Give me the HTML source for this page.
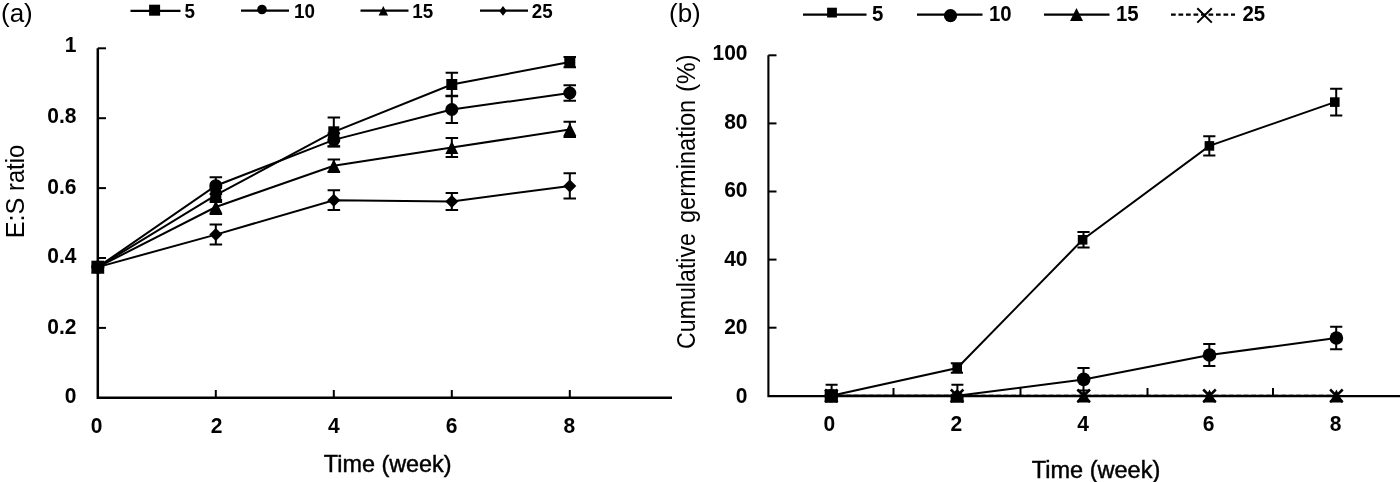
<!DOCTYPE html>
<html><head><meta charset="utf-8"><style>
html,body{margin:0;padding:0;background:#fff;}
svg{display:block;will-change:transform;}
text{font-family:"Liberation Sans",sans-serif;fill:#000;}
.tk{font-weight:bold;font-size:22px;}
.lg{font-weight:bold;font-size:20px;}
.lg2{font-weight:bold;font-size:22.5px;}
.pl{font-size:26px;}
.ti{font-size:24px;stroke:#000;stroke-width:0.45px;}
.yl{font-size:26px;}
.yl2{font-size:26px;}
</style></head><body>
<svg width="1400" height="482" viewBox="0 0 1400 482">
<rect width="1400" height="482" fill="#fff"/>
<g id="A">
<path d="M97.8,48.3V397.8H672" fill="none" stroke="#000" stroke-width="2.5" stroke-linejoin="miter"/>
<path d="M97.8,327.9H106" stroke="#000" stroke-width="2"/>
<path d="M97.8,258.0H106" stroke="#000" stroke-width="2"/>
<path d="M97.8,188.1H106" stroke="#000" stroke-width="2"/>
<path d="M97.8,118.2H106" stroke="#000" stroke-width="2"/>
<path d="M97.8,48.3H106" stroke="#000" stroke-width="2"/>
<path d="M215.8,397.8V390" stroke="#000" stroke-width="2"/>
<path d="M333.8,397.8V390" stroke="#000" stroke-width="2"/>
<path d="M451.8,397.8V390" stroke="#000" stroke-width="2"/>
<path d="M569.8,397.8V390" stroke="#000" stroke-width="2"/>
<text class="tk" transform="translate(76.50,402.85) scale(0.955,1)" text-anchor="end">0</text>
<text class="tk" transform="translate(76.50,333.60) scale(0.955,1)" text-anchor="end">0.2</text>
<text class="tk" transform="translate(76.50,262.75) scale(0.955,1)" text-anchor="end">0.4</text>
<text class="tk" transform="translate(76.50,193.50) scale(0.955,1)" text-anchor="end">0.6</text>
<text class="tk" transform="translate(76.50,123.40) scale(0.955,1)" text-anchor="end">0.8</text>
<text class="tk" transform="translate(76.50,52.45) scale(0.955,1)" text-anchor="end">1</text>
<text class="tk" transform="translate(96.70,432.60) scale(0.955,1)" text-anchor="middle">0</text>
<text class="tk" transform="translate(216.60,432.60) scale(0.955,1)" text-anchor="middle">2</text>
<text class="tk" transform="translate(333.90,432.60) scale(0.955,1)" text-anchor="middle">4</text>
<text class="tk" transform="translate(451.70,432.60) scale(0.955,1)" text-anchor="middle">6</text>
<text class="tk" transform="translate(569.40,432.60) scale(0.955,1)" text-anchor="middle">8</text>
<polyline points="97.8,267.1 215.8,195.1 333.8,131.8 451.8,84.5 569.8,62.1" fill="none" stroke="#000" stroke-width="2"/>
<polyline points="97.8,267.1 215.8,185.7 333.8,139.9 451.8,109.5 569.8,93.0" fill="none" stroke="#000" stroke-width="2"/>
<polyline points="97.8,267.1 215.8,207.0 333.8,165.7 451.8,147.6 569.8,129.4" fill="none" stroke="#000" stroke-width="2"/>
<polyline points="97.8,267.1 215.8,234.6 333.8,200.2 451.8,201.5 569.8,185.9" fill="none" stroke="#000" stroke-width="2"/>
<path d="M215.8,188.1V202.1M209.6,188.1H222.1M209.6,202.1H222.1" fill="none" stroke="#000" stroke-width="2"/>
<path d="M333.8,117.5V146.2M327.6,117.5H340.1M327.6,146.2H340.1" fill="none" stroke="#000" stroke-width="2"/>
<path d="M451.8,72.8V96.2M445.6,72.8H458.1M445.6,96.2H458.1" fill="none" stroke="#000" stroke-width="2"/>
<path d="M569.8,56.9V67.3M563.5,56.9H576.0M563.5,67.3H576.0" fill="none" stroke="#000" stroke-width="2"/>
<path d="M215.8,177.3V194.0M209.6,177.3H222.1M209.6,194.0H222.1" fill="none" stroke="#000" stroke-width="2"/>
<path d="M333.8,133.2V146.5M327.6,133.2H340.1M327.6,146.5H340.1" fill="none" stroke="#000" stroke-width="2"/>
<path d="M451.8,95.8V123.1M445.6,95.8H458.1M445.6,123.1H458.1" fill="none" stroke="#000" stroke-width="2"/>
<path d="M569.8,85.3V100.7M563.5,85.3H576.0M563.5,100.7H576.0" fill="none" stroke="#000" stroke-width="2"/>
<path d="M215.8,200.0V214.0M209.6,200.0H222.1M209.6,214.0H222.1" fill="none" stroke="#000" stroke-width="2"/>
<path d="M333.8,159.4V172.0M327.6,159.4H340.1M327.6,172.0H340.1" fill="none" stroke="#000" stroke-width="2"/>
<path d="M451.8,138.1V157.0M445.6,138.1H458.1M445.6,157.0H458.1" fill="none" stroke="#000" stroke-width="2"/>
<path d="M569.8,121.7V137.1M563.5,121.7H576.0M563.5,137.1H576.0" fill="none" stroke="#000" stroke-width="2"/>
<path d="M215.8,224.6V244.6M209.6,224.6H222.1M209.6,244.6H222.1" fill="none" stroke="#000" stroke-width="2"/>
<path d="M333.8,190.2V210.1M327.6,190.2H340.1M327.6,210.1H340.1" fill="none" stroke="#000" stroke-width="2"/>
<path d="M451.8,193.1V209.9M445.6,193.1H458.1M445.6,209.9H458.1" fill="none" stroke="#000" stroke-width="2"/>
<path d="M569.8,173.3V198.5M563.5,173.3H576.0M563.5,198.5H576.0" fill="none" stroke="#000" stroke-width="2"/>
<rect x="92.3" y="261.6" width="11.0" height="11.0"/>
<rect x="210.3" y="189.6" width="11.0" height="11.0"/>
<rect x="328.3" y="126.3" width="11.0" height="11.0"/>
<rect x="446.3" y="79.0" width="11.0" height="11.0"/>
<rect x="564.3" y="56.6" width="11.0" height="11.0"/>
<circle cx="97.8" cy="267.1" r="6.5"/>
<circle cx="215.8" cy="185.7" r="6.5"/>
<circle cx="333.8" cy="139.9" r="6.5"/>
<circle cx="451.8" cy="109.5" r="6.5"/>
<circle cx="569.8" cy="93.0" r="6.5"/>
<polygon points="97.8,260.6 104.3,273.6 91.3,273.6"/>
<polygon points="215.8,200.5 222.3,213.5 209.3,213.5"/>
<polygon points="333.8,159.2 340.3,172.2 327.3,172.2"/>
<polygon points="451.8,141.1 458.3,154.1 445.3,154.1"/>
<polygon points="569.8,122.9 576.3,135.9 563.3,135.9"/>
<polygon points="97.8,260.6 104.3,267.1 97.8,273.6 91.3,267.1"/>
<polygon points="215.8,228.1 222.3,234.6 215.8,241.1 209.3,234.6"/>
<polygon points="333.8,193.7 340.3,200.2 333.8,206.7 327.3,200.2"/>
<polygon points="451.8,195.0 458.3,201.5 451.8,208.0 445.3,201.5"/>
<polygon points="569.8,179.4 576.3,185.9 569.8,192.4 563.3,185.9"/>
<rect x="91.4" y="260.7" width="12.8" height="12.8"/>
</g>
<g id="B">
<path d="M768.4,55.3V396.1H1400" fill="none" stroke="#000" stroke-width="2.1"/>
<path d="M768.4,327.7H776.5" stroke="#000" stroke-width="2"/>
<path d="M768.4,259.6H776.5" stroke="#000" stroke-width="2"/>
<path d="M768.4,191.5H776.5" stroke="#000" stroke-width="2"/>
<path d="M768.4,123.4H776.5" stroke="#000" stroke-width="2"/>
<path d="M768.4,55.3H776.5" stroke="#000" stroke-width="2"/>
<path d="M893.5,395.8V388" stroke="#000" stroke-width="2"/>
<path d="M1020.5,395.8V388" stroke="#000" stroke-width="2"/>
<path d="M1147.5,395.8V388" stroke="#000" stroke-width="2"/>
<path d="M1273,395.8V388" stroke="#000" stroke-width="2"/>
<text class="tk" transform="translate(747.50,402.90) scale(0.955,1)" text-anchor="end">0</text>
<text class="tk" transform="translate(747.50,333.60) scale(0.955,1)" text-anchor="end">20</text>
<text class="tk" transform="translate(747.50,266.15) scale(0.955,1)" text-anchor="end">40</text>
<text class="tk" transform="translate(747.50,197.35) scale(0.955,1)" text-anchor="end">60</text>
<text class="tk" transform="translate(747.50,129.35) scale(0.955,1)" text-anchor="end">80</text>
<text class="tk" transform="translate(747.50,60.00) scale(0.955,1)" text-anchor="end">100</text>
<text class="tk" transform="translate(829.40,431.00) scale(0.955,1)" text-anchor="middle">0</text>
<text class="tk" transform="translate(956.40,431.00) scale(0.955,1)" text-anchor="middle">2</text>
<text class="tk" transform="translate(1083.10,431.00) scale(0.955,1)" text-anchor="middle">4</text>
<text class="tk" transform="translate(1208.60,431.00) scale(0.955,1)" text-anchor="middle">6</text>
<text class="tk" transform="translate(1335.70,431.00) scale(0.955,1)" text-anchor="middle">8</text>
<polyline points="831.3,395.8 957.2,368.0 1082.6,239.8 1209.4,145.9 1334.8,102.1" fill="none" stroke="#000" stroke-width="2"/>
<polyline points="831.3,395.8 957.1,395.8 1083.7,379.4 1209.5,355.0 1336.4,338.0" fill="none" stroke="#000" stroke-width="2"/>
<polyline points="831.3,395.8 957.1,395.8 1083.7,395.8 1209.5,395.8 1336.4,395.8" fill="none" stroke="#000" stroke-width="2"/>
<polyline points="831.3,395.8 957.1,395.8 1083.7,395.8 1209.5,395.8 1336.4,395.8" fill="none" stroke="#000" stroke-width="2" stroke-dasharray="4.7,2.8"/>
<path d="M831.6,384.7V395.8M825.6,384.7H837.6M825.6,395.8H837.6" fill="none" stroke="#000" stroke-width="2"/>
<path d="M957.4,384.7V395.8M951.4,384.7H963.4M951.4,395.8H963.4" fill="none" stroke="#000" stroke-width="2"/>
<path d="M956.9,363.2V372.8M950.8,363.2H963.0M950.8,372.8H963.0" fill="none" stroke="#000" stroke-width="2"/>
<path d="M1083.5,232.1V247.4M1077.4,232.1H1089.6M1077.4,247.4H1089.6" fill="none" stroke="#000" stroke-width="2"/>
<path d="M1209.3,136.3V155.4M1203.2,136.3H1215.4M1203.2,155.4H1215.4" fill="none" stroke="#000" stroke-width="2"/>
<path d="M1336.2,88.7V115.5M1330.1,88.7H1342.3M1330.1,115.5H1342.3" fill="none" stroke="#000" stroke-width="2"/>
<path d="M1083.5,368.1V390.6M1077.4,368.1H1089.6M1077.4,390.6H1089.6" fill="none" stroke="#000" stroke-width="2"/>
<path d="M1209.3,343.9V366.1M1203.2,343.9H1215.4M1203.2,366.1H1215.4" fill="none" stroke="#000" stroke-width="2"/>
<path d="M1336.2,326.8V349.3M1330.1,326.8H1342.3M1330.1,349.3H1342.3" fill="none" stroke="#000" stroke-width="2"/>
<rect x="826.5" y="391.0" width="9.6" height="9.6"/>
<rect x="952.4" y="363.2" width="9.6" height="9.6"/>
<rect x="1077.8" y="235.0" width="9.6" height="9.6"/>
<rect x="1204.6" y="141.1" width="9.6" height="9.6"/>
<rect x="1330.0" y="97.3" width="9.6" height="9.6"/>
<circle cx="831.3" cy="395.8" r="6.8"/>
<circle cx="1083.7" cy="379.4" r="6.8"/>
<circle cx="1209.5" cy="355.0" r="6.8"/>
<circle cx="1336.4" cy="338.0" r="6.8"/>
<polygon points="831.3,389.6 838.0,402.4 824.6,402.4"/>
<path d="M825.0,389.5L837.6,402.1M837.6,389.5L825.0,402.1" fill="none" stroke="#000" stroke-width="2.5"/>
<polygon points="957.1,389.6 963.8,402.4 950.4,402.4"/>
<path d="M950.8,389.5L963.4,402.1M963.4,389.5L950.8,402.1" fill="none" stroke="#000" stroke-width="2.5"/>
<polygon points="957.1,389.2 963.6,394.8 963.6,402.4 950.6,402.4 950.6,394.8"/>
<polygon points="1083.7,389.6 1090.4,402.4 1077.0,402.4"/>
<path d="M1077.4,389.5L1090.0,402.1M1090.0,389.5L1077.4,402.1" fill="none" stroke="#000" stroke-width="2.5"/>
<polygon points="1209.5,389.6 1216.2,402.4 1202.8,402.4"/>
<path d="M1203.2,389.5L1215.8,402.1M1215.8,389.5L1203.2,402.1" fill="none" stroke="#000" stroke-width="2.5"/>
<polygon points="1336.4,389.6 1343.1,402.4 1329.7,402.4"/>
<path d="M1330.1,389.5L1342.7,402.1M1342.7,389.5L1330.1,402.1" fill="none" stroke="#000" stroke-width="2.5"/>
<rect x="824.7" y="389.2" width="13.2" height="13.2" rx="1.5"/>
</g>
<path d="M130.5,10.9H180.5" stroke="#000" stroke-width="2.2"/><rect x="149.1" y="4.7" width="11.0" height="11.0"/><text class="lg" transform="translate(184.50,17.50) scale(0.94,1)">5</text>
<path d="M241,10.7H289" stroke="#000" stroke-width="2.2"/><circle cx="262.0" cy="9.5" r="4.8"/><text class="lg" transform="translate(294.00,17.50) scale(0.94,1)">10</text>
<path d="M360.5,10.7H408.5" stroke="#000" stroke-width="2.2"/><polygon points="383.3,6.1 388.1,15.6 378.6,15.6"/><text class="lg" transform="translate(412.30,17.50) scale(0.94,1)">15</text>
<path d="M480,10.7H528" stroke="#000" stroke-width="2.2"/><polygon points="503.0,6.1 506.7,10.9 503.0,15.7 499.3,10.9"/><text class="lg" transform="translate(531.80,17.50) scale(0.94,1)">25</text>
<path d="M803,14.6H866.5" stroke="#000" stroke-width="2.2"/><rect x="827.1" y="7.7" width="9.8" height="9.8"/><text class="lg2" transform="translate(872.00,21.20) scale(0.907,1)">5</text>
<path d="M917,14.6H982.5" stroke="#000" stroke-width="2.2"/><circle cx="950.5" cy="15.7" r="6.6"/><text class="lg2" transform="translate(989.00,21.20) scale(0.907,1)">10</text>
<path d="M1044,14.6H1109.5" stroke="#000" stroke-width="2.2"/><polygon points="1076.5,8.1 1083.0,21.1 1070.0,21.1"/><text class="lg2" transform="translate(1116.00,21.20) scale(0.907,1)">15</text>
<path d="M1171,14.6H1235" stroke="#000" stroke-width="2.2" stroke-dasharray="4.7,2.8"/><path d="M1197.3,8.2L1211.8,22.6M1211.8,8.2L1197.3,22.6" fill="none" stroke="#000" stroke-width="2"/><text class="lg2" transform="translate(1242.50,21.20) scale(0.907,1)">25</text>
<text class="pl" x="1" y="22">(a)</text>
<text class="pl" x="669" y="22">(b)</text>
<text class="ti" transform="translate(387.70,472.00) scale(0.975,1)" text-anchor="middle">Time (week)</text>
<text class="ti" transform="translate(1096.00,477.60) scale(0.98,1)" text-anchor="middle">Time (week)</text>
<text class="yl" transform="translate(23.9,217.9) rotate(-90) scale(0.97,1)" text-anchor="middle">E:S</text>
<text class="yl" transform="translate(23.9,167.9) rotate(-90) scale(0.915,1)" text-anchor="middle">ratio</text>
<text class="yl2" transform="translate(694.8,291.0) rotate(-90) scale(0.892,1)" text-anchor="middle">Cumulative</text>
<text class="yl2" transform="translate(694.8,161.4) rotate(-90) scale(0.907,1)" text-anchor="middle">germination</text>
<text class="yl2" transform="translate(694.8,73.2) rotate(-90) scale(0.935,1)" text-anchor="middle">(%)</text>
</svg>
</body></html>
